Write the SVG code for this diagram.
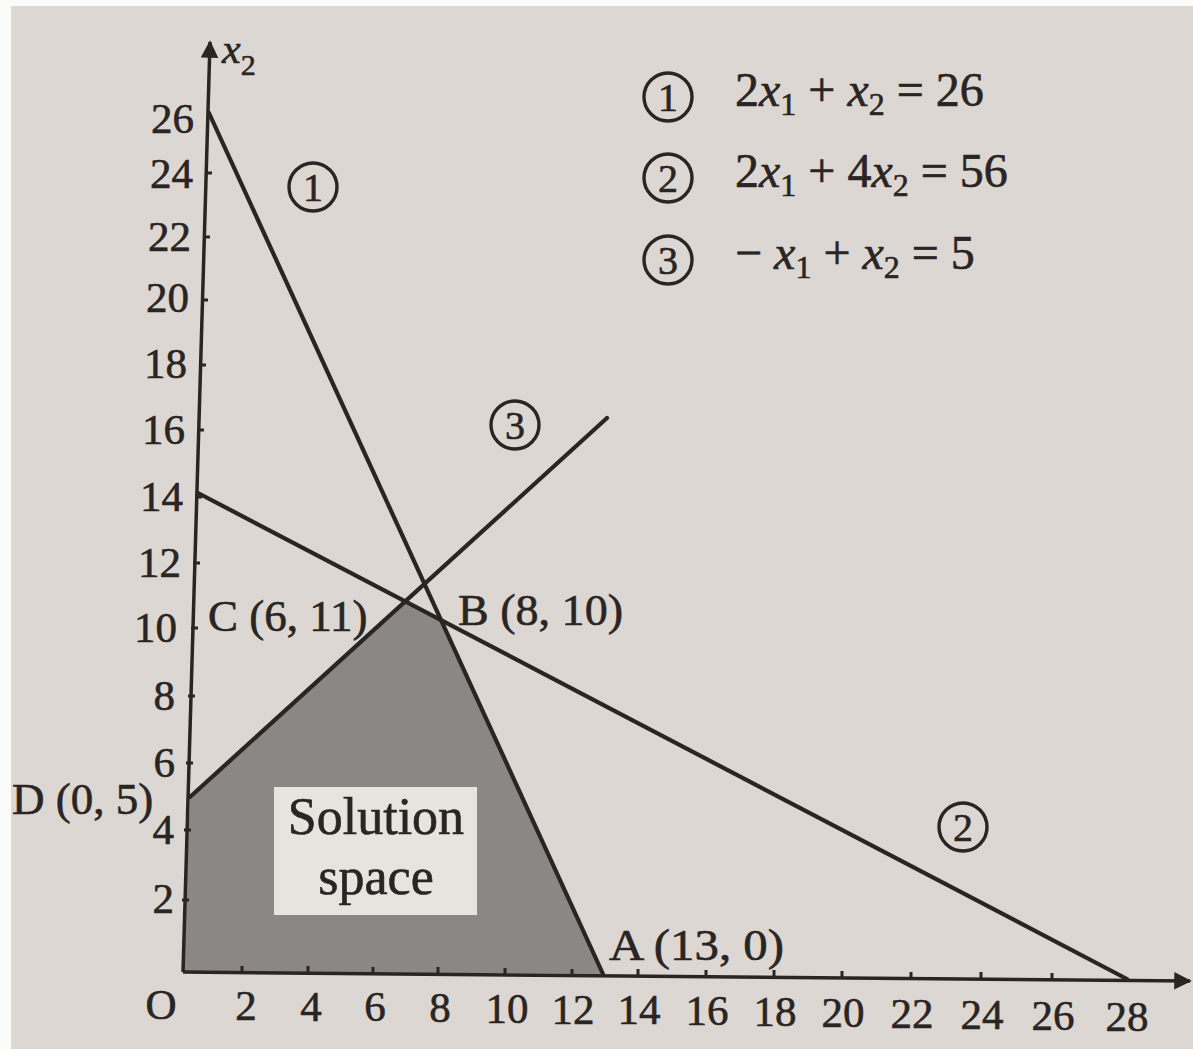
<svg xmlns="http://www.w3.org/2000/svg" width="1193" height="1049" viewBox="0 0 1193 1049">
<defs>
<style>
.t{font-family:"Liberation Serif","Times New Roman",serif;fill:#2a2522;stroke:#2a2522;stroke-width:0.6}
.ax{font-size:43px}
.lb{font-size:45px}
.it{font-style:italic}
.ln{stroke:#2a2522;stroke-width:4.2;fill:none;stroke-linecap:round}
.axl{stroke:#2a2522;stroke-width:3.5;fill:none}
.tk{stroke:#2a2522;stroke-width:3}
.cir{fill:none;stroke:#2a2522;stroke-width:3.4}
.cn{font-size:40px;text-anchor:middle}
</style>
<marker id="arr" viewBox="0 0 10 10" refX="9" refY="5" markerWidth="5" markerHeight="5" orient="auto" markerUnits="strokeWidth">
<path d="M0,0 L10,5 L0,10 z" fill="#2a2522"/>
</marker>
</defs>
<rect x="0" y="0" width="1193" height="1049" fill="#fbfbfa"/>
<rect x="11" y="6" width="1182" height="1043" fill="#dcd7d2"/>

<g id="solution-region">
<polygon points="183,972 190,797 405,603 440,617 603,974" fill="#8b8784"/>
<rect x="274" y="787" width="203" height="128" fill="#e7e4e0"/>
<text class="t" x="376" y="834" font-size="52" text-anchor="middle">Solution</text>
<text class="t" x="376" y="894" font-size="52" text-anchor="middle">space</text>
</g>

<g id="axes">
<line class="axl" x1="183" y1="972" x2="210" y2="42" marker-end="url(#arr)"/>
<line class="axl" x1="183" y1="972" x2="1190" y2="981" marker-end="url(#arr)"/>
<g class="tk">
<line x1="242" y1="973" x2="242" y2="966"/>
<line x1="308" y1="973" x2="308" y2="966"/>
<line x1="373" y1="974" x2="373" y2="967"/>
<line x1="438" y1="974" x2="438" y2="967"/>
<line x1="505" y1="975" x2="505" y2="968"/>
<line x1="572" y1="976" x2="572" y2="969"/>
<line x1="638" y1="976" x2="638" y2="969"/>
<line x1="706" y1="977" x2="706" y2="970"/>
<line x1="774" y1="977" x2="774" y2="970"/>
<line x1="842" y1="978" x2="842" y2="971"/>
<line x1="911" y1="979" x2="911" y2="972"/>
<line x1="981" y1="979" x2="981" y2="972"/>
<line x1="1052" y1="980" x2="1052" y2="973"/>
<line x1="182" y1="900" x2="189" y2="900"/>
<line x1="184" y1="830" x2="191" y2="830"/>
<line x1="186" y1="763" x2="193" y2="763"/>
<line x1="188" y1="696" x2="195" y2="696"/>
<line x1="191" y1="628" x2="198" y2="628"/>
<line x1="193" y1="563" x2="200" y2="563"/>
<line x1="195" y1="497" x2="202" y2="497"/>
<line x1="197" y1="430" x2="204" y2="430"/>
<line x1="199" y1="365" x2="206" y2="365"/>
<line x1="201" y1="300" x2="208" y2="300"/>
<line x1="203" y1="237" x2="210" y2="237"/>
<line x1="205" y1="173" x2="212" y2="173"/>
</g>
<text class="t it" x="222" y="63" font-size="42">x<tspan font-size="30" font-style="normal" dy="12">2</tspan></text>
<g class="t ax" text-anchor="end">
<text x="194" y="133">26</text>
<text x="193" y="188">24</text>
<text x="191" y="251">22</text>
<text x="189" y="312">20</text>
<text x="187" y="378">18</text>
<text x="185" y="444">16</text>
<text x="183" y="511">14</text>
<text x="181" y="577">12</text>
<text x="177" y="642">10</text>
<text x="175" y="710">8</text>
<text x="175" y="777">6</text>
<text x="174" y="844">4</text>
<text x="174" y="913">2</text>
</g>
<g class="t ax" text-anchor="middle">
<text x="161" y="1019">O</text>
<text x="246" y="1020">2</text>
<text x="311" y="1021">4</text>
<text x="375" y="1021">6</text>
<text x="440" y="1022">8</text>
<text x="507" y="1023">10</text>
<text x="573" y="1024">12</text>
<text x="639" y="1024">14</text>
<text x="707" y="1025">16</text>
<text x="775" y="1026">18</text>
<text x="843" y="1027">20</text>
<text x="912" y="1028">22</text>
<text x="982" y="1029">24</text>
<text x="1053" y="1030">26</text>
<text x="1127" y="1031">28</text>
</g>
</g>

<g id="connectors">
<line id="c1" class="ln" x1="209" y1="113" x2="603" y2="974"/>
<line id="c2" class="ln" x1="198" y1="493" x2="1127" y2="979"/>
<line id="c3" class="ln" x1="190" y1="797" x2="607" y2="418"/>
</g>

<g id="line-labels">
<g id="lab1"><circle class="cir" cx="313" cy="187" r="24"/><text class="t cn" x="313" y="201">1</text></g>
<g id="lab3"><circle class="cir" cx="515" cy="425" r="24"/><text class="t cn" x="515" y="439">3</text></g>
<g id="lab2"><circle class="cir" cx="963" cy="827" r="24"/><text class="t cn" x="963" y="841">2</text></g>
</g>

<g id="points">
<text class="t lb" x="208" y="631">C (6, 11)</text>
<text class="t lb" x="458" y="625" textLength="165" lengthAdjust="spacingAndGlyphs">B (8, 10)</text>
<text class="t lb" x="12" y="814">D (0, 5)</text>
<text class="t lb" x="609" y="960" textLength="175" lengthAdjust="spacingAndGlyphs">A (13, 0)</text>
</g>

<g id="legend">
<g id="eq1"><circle class="cir" cx="668" cy="97" r="24"/><text class="t cn" x="668" y="111">1</text>
<text class="t" font-size="48" x="735" y="106">2<tspan class="it">x</tspan><tspan font-size="32" dy="9">1</tspan><tspan dy="-9"> + </tspan><tspan class="it">x</tspan><tspan font-size="32" dy="9">2</tspan><tspan dy="-9"> = 26</tspan></text></g>
<g id="eq2"><circle class="cir" cx="668" cy="178" r="24"/><text class="t cn" x="668" y="192">2</text>
<text class="t" font-size="48" x="735" y="187">2<tspan class="it">x</tspan><tspan font-size="32" dy="9">1</tspan><tspan dy="-9"> + 4</tspan><tspan class="it">x</tspan><tspan font-size="32" dy="9">2</tspan><tspan dy="-9"> = 56</tspan></text></g>
<g id="eq3"><circle class="cir" cx="668" cy="260" r="24"/><text class="t cn" x="668" y="274">3</text>
<text class="t" font-size="48" x="735" y="269">− <tspan class="it">x</tspan><tspan font-size="32" dy="9">1</tspan><tspan dy="-9"> + </tspan><tspan class="it">x</tspan><tspan font-size="32" dy="9">2</tspan><tspan dy="-9"> = 5</tspan></text></g>
</g>
</svg>
